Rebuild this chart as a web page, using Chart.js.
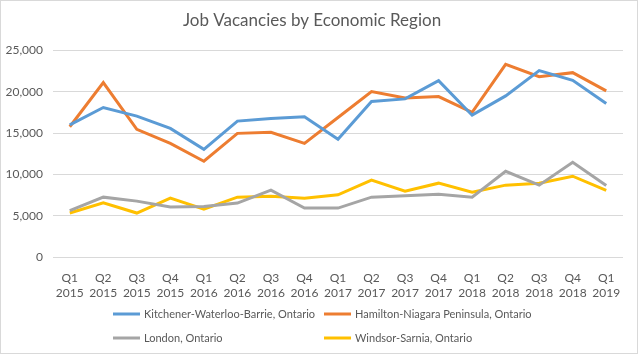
<!DOCTYPE html>
<html>
<head>
<meta charset="utf-8">
<script src="https://cdn.jsdelivr.net/npm/chart.js@4"></script>
<style>
  html, body { margin: 0; padding: 0; background: #fff; }
  #wrap { position: relative; width: 636px; height: 352px; border: 1px solid #d9d9d9; }
</style>
</head>
<body>
<div id="wrap"><canvas id="chart" width="636" height="352"></canvas></div>
<script>
const quarters = [
    ['Q1', '2015'], ['Q2', '2015'], ['Q3', '2015'], ['Q4', '2015'],
    ['Q1', '2016'], ['Q2', '2016'], ['Q3', '2016'], ['Q4', '2016'],
    ['Q1', '2017'], ['Q2', '2017'], ['Q3', '2017'], ['Q4', '2017'],
    ['Q1', '2018'], ['Q2', '2018'], ['Q3', '2018'], ['Q4', '2018'],
    ['Q1', '2019']
];
const regionNames = [
    'Kitchener-Waterloo-Barrie, Ontario',
    'Hamilton-Niagara Peninsula, Ontario',
    'London, Ontario',
    'Windsor-Sarnia, Ontario'
];
const kitchener = [16000, 18100, 17050, 15570, 13040, 16450, 16770, 16980, 14250, 18820, 19140, 21350, 17170, 19500, 22550, 21390, 18580];
const hamilton  = [15770, 21110, 15450, 13760, 11600, 14970, 15090, 13760, 16890, 20020, 19260, 19420, 17500, 23310, 21830, 22310, 20100];
const london    = [5620, 7260, 6780, 6060, 6140, 6540, 8110, 5940, 5940, 7260, 7420, 7620, 7260, 10390, 8710, 11480, 8670];
const windsor   = [5340, 6580, 5340, 7140, 5820, 7260, 7380, 7140, 7540, 9310, 7990, 8950, 7870, 8710, 8950, 9790, 8070];
const seriesColors = ['#5B9BD5', '#ED7D31', '#A5A5A5', '#FFC000'];

const textColor = '#595959';
const fontFamily = 'Lato, "Open Sans", sans-serif';

// Excel-like legend: two columns, two rows
const gridLegend = {
    id: 'gridLegend',
    afterDraw(chart) {
        const ctx = chart.ctx;
        const cols = [112, 323];
        const rows = [313, 337];
        ctx.save();
        ctx.font = '11px ' + fontFamily;
        ctx.textBaseline = 'middle';
        ctx.textAlign = 'left';
        chart.data.datasets.forEach((ds, i) => {
            const x = cols[i % 2];
            const y = rows[Math.floor(i / 2)];
            ctx.strokeStyle = ds.borderColor;
            ctx.lineWidth = 3;
            ctx.beginPath();
            ctx.moveTo(x, y);
            ctx.lineTo(x + 27, y);
            ctx.stroke();
            ctx.fillStyle = textColor;
            ctx.fillText(ds.label, x + 31, y);
        });
        ctx.restore();
    }
};

const allSeries = [kitchener, hamilton, london, windsor];

new Chart(document.getElementById('chart'), {
    type: 'line',
    data: {
        labels: quarters,
        datasets: allSeries.map((vals, i) => ({
            label: regionNames[i],
            data: vals,
            borderColor: seriesColors[i],
            backgroundColor: seriesColors[i],
            borderWidth: 3,
            pointRadius: 0,
            tension: 0
        }))
    },
    options: {
        responsive: false,
        animation: false,
        layout: { padding: { left: 0, right: 14, top: 0, bottom: 47 } },
        plugins: {
            legend: { display: false },
            tooltip: { enabled: false },
            title: {
                display: true,
                text: 'Job Vacancies by Economic Region',
                color: textColor,
                font: { family: fontFamily, size: 17, weight: 'normal' },
                padding: { top: 9, bottom: 20 }
            }
        },
        scales: {
            x: {
                offset: true,
                grid: { display: false },
                border: { display: false },
                ticks: {
                    color: textColor,
                    font: { family: fontFamily, size: 12 },
                    maxRotation: 0,
                    autoSkip: false,
                    padding: 6
                }
            },
            y: {
                min: 0,
                max: 25000,
                ticks: {
                    stepSize: 5000,
                    color: textColor,
                    font: { family: fontFamily, size: 12 },
                    padding: 10,
                    callback: v => v.toLocaleString('en-US')
                },
                grid: { color: '#d9d9d9', lineWidth: 1, drawTicks: false },
                border: { display: false },
                afterFit(scale) { scale.width = 52; }
            }
        }
    },
    plugins: [gridLegend]
});
</script>
</body>
</html>
